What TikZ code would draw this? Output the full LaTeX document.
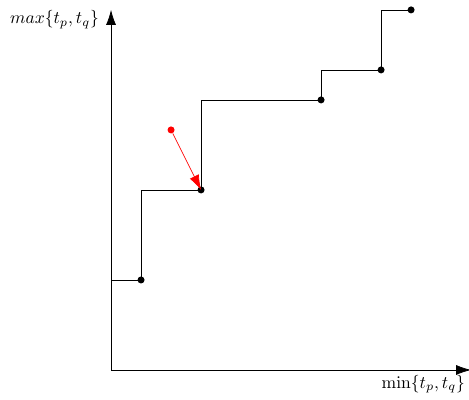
\documentclass[tikz,border=0pt]{standalone}
\usepackage{tikz}
\usetikzlibrary{arrows.meta,positioning}

\begin{document}
\begin{tikzpicture}[
  x=0.6cm, y=0.6cm,
  font=\fontsize{10.4pt}{12.5pt}\selectfont,
  axis/.style={-{Latex[length=3mm,width=2mm]}},
  dot/.style={circle, fill, inner sep=0pt, minimum size=4pt},
  query/.style={dot, red},
  move/.style={->, red, -{Latex[length=3mm,width=2mm]}}
]
  \useasboundingbox (-3.7,-1) rectangle (11.93,12.33);

  % axes
  \coordinate (o) at (0,0);
  \coordinate (xend) at (12,0);
  \coordinate (yend) at (0,12);
  \draw[axis] (o) -- (xend);
  \draw[axis] (o) -- (yend);
  \node[anchor=east] (xlab) at (12.0,-0.47) {$\min\{t_p,t_q\}$};
  \node[anchor=east] (ylab) at (-0.2,11.67) {$max\{t_p,t_q\}$};

  % staircase
  \coordinate (s0) at (0,3);
  \node[dot] (p1) at (1,3) {};
  \node[dot] (p2) at (3,6) {};
  \node[dot] (p3) at (7,9) {};
  \node[dot] (p4) at (9,10) {};
  \node[dot] (p5) at (10,12) {};
  \draw (s0) -- (p1.center) |- (p2.center) |- (p3.center) |- (p4.center) |- (p5.center);

  % query point
  \node[query] (q) at (2,8) {};
  \draw[move] (q) -- (p2.center);
\end{tikzpicture}
\end{document}
